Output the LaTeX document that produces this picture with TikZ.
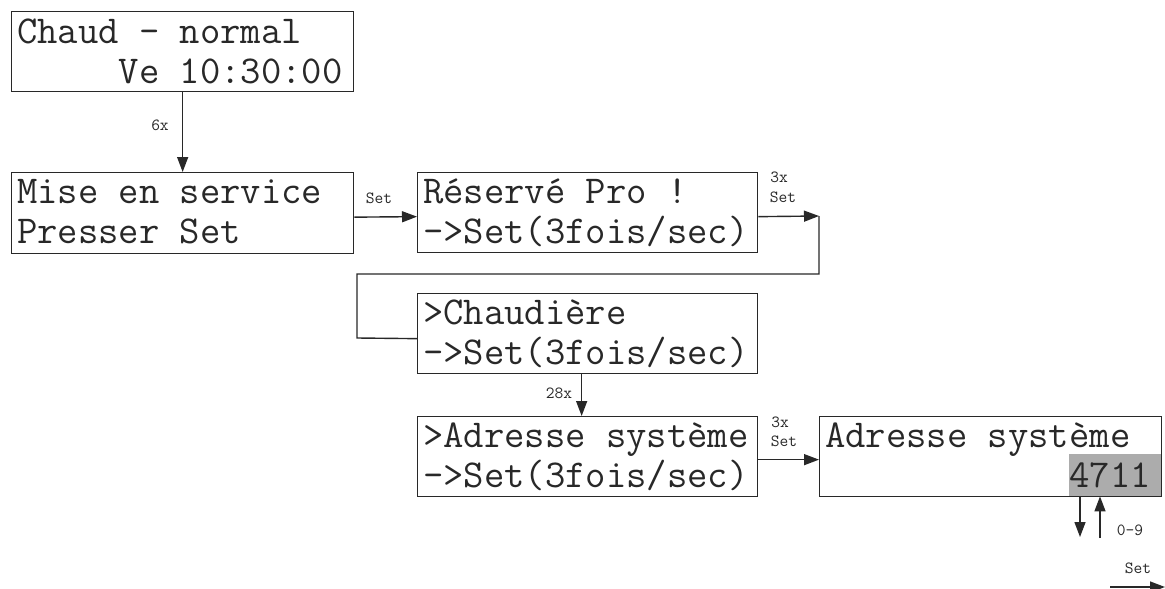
\documentclass[tikz,border=0pt]{standalone}
\usepackage{fontspec}
\usetikzlibrary{arrows.meta,calc}
\definecolor{ink}{RGB}{40,40,40}
\definecolor{field}{RGB}{172,172,172}
\tikzset{
  lcdbox/.style={draw=ink, line width=1.3pt, rectangle, minimum width=342pt, minimum height=80pt, inner sep=0pt, anchor=north west},
  lcdtxt/.style={anchor=base west, inner sep=0pt, text=ink, font=\ttfamily\fontsize{39.5}{40}\selectfont},
  small/.style={inner sep=0pt, text=ink, font=\ttfamily\fontsize{17}{18}\selectfont},
  arr/.style={draw=ink, line width=1.4pt, -{Triangle[length=15pt,width=11pt]}},
  ln/.style={draw=ink, line width=1.4pt},
}
\begin{document}
\begin{tikzpicture}[x=1pt,y=-1pt]
\useasboundingbox (0,0) rectangle (1165,589);
% boxes
\node[lcdbox] (b1) at (11,11) {};
\node[lcdbox, minimum height=81pt] (b2) at (11,172) {};
\node[lcdbox, minimum width=340pt] (b3) at (417,172) {};
\node[lcdbox, minimum width=340pt] (b4) at (417,293) {};
\node[lcdbox, minimum width=340pt] (b5) at (417,416) {};
\node[fill=field, inner sep=0pt, minimum width=92pt, minimum height=42pt, anchor=north west] (g) at (1069,454) {};
\node[lcdbox] (b6) at (819,416) {};
% texts
\node[lcdtxt] (t1a) at (17,43) {Chaud - normal};
\node[lcdtxt] (t1b) at (17,83) {\phantom{00000}Ve 10:30:00};
\node[lcdtxt] (t2a) at (17,203) {Mise en service};
\node[lcdtxt] (t2b) at (17,243) {Presser Set};
\node[lcdtxt] (t3a) at (423,203) {Réservé Pro !};
\node[lcdtxt] (t3b) at (423,243) {->Set(3fois/sec)};
\node[lcdtxt] (t4a) at (423,324) {>Chaudière};
\node[lcdtxt] (t4b) at (423,364) {->Set(3fois/sec)};
\node[lcdtxt] (t5a) at (423,447) {>Adresse système};
\node[lcdtxt] (t5b) at (423,487) {->Set(3fois/sec)};
\node[lcdtxt] (t6a) at (825,447) {Adresse système};
\node[lcdtxt] (t6b) at (825,487) {\phantom{000000000000}4711};
% connectors
\draw[arr] (b1.south) -- (b2.north);
\draw[arr] ([yshift=-4pt]b2.east) -- ([yshift=-4pt]b3.west);
\coordinate (c1) at (819,216);
\draw[arr] ([yshift=-4pt]b3.east) -- (c1);
\draw[ln] (c1) -- (819,274) -- (357,274) -- (357,338) -- ([yshift=-5pt]b4.west);
\draw[arr] ([xshift=-6pt]b4.south) -- ([xshift=-6pt]b5.north);
\draw[arr] ([yshift=-3pt]b5.east) -- ([yshift=-3pt]b6.west);
\coordinate (d1) at (1080,537);
\coordinate (u1) at (1100,538);
\draw[arr] (g.south -| d1) -- (d1);
\draw[arr] (u1) -- (g.south -| u1);
\coordinate (s0) at (1110,587);
\coordinate (s1) at (1165,587);
\draw[arr] (s0) -- (s1);
% labels
\node[small] (l1) at (160,125) {6x};
\node[small] (l2) at (379,198) {Set};
\node[small] (l3) at (779,177) {3x};
\node[small] (l4) at (783,197) {Set};
\node[small] (l5) at (559,393) {28x};
\node[small] (l6) at (780,422) {3x};
\node[small] (l7) at (784,441) {Set};
\node[small] (l8) at (1130,530) {0-9};
\node[small] (l9) at (1138,568) {Set};
\end{tikzpicture}
\end{document}
